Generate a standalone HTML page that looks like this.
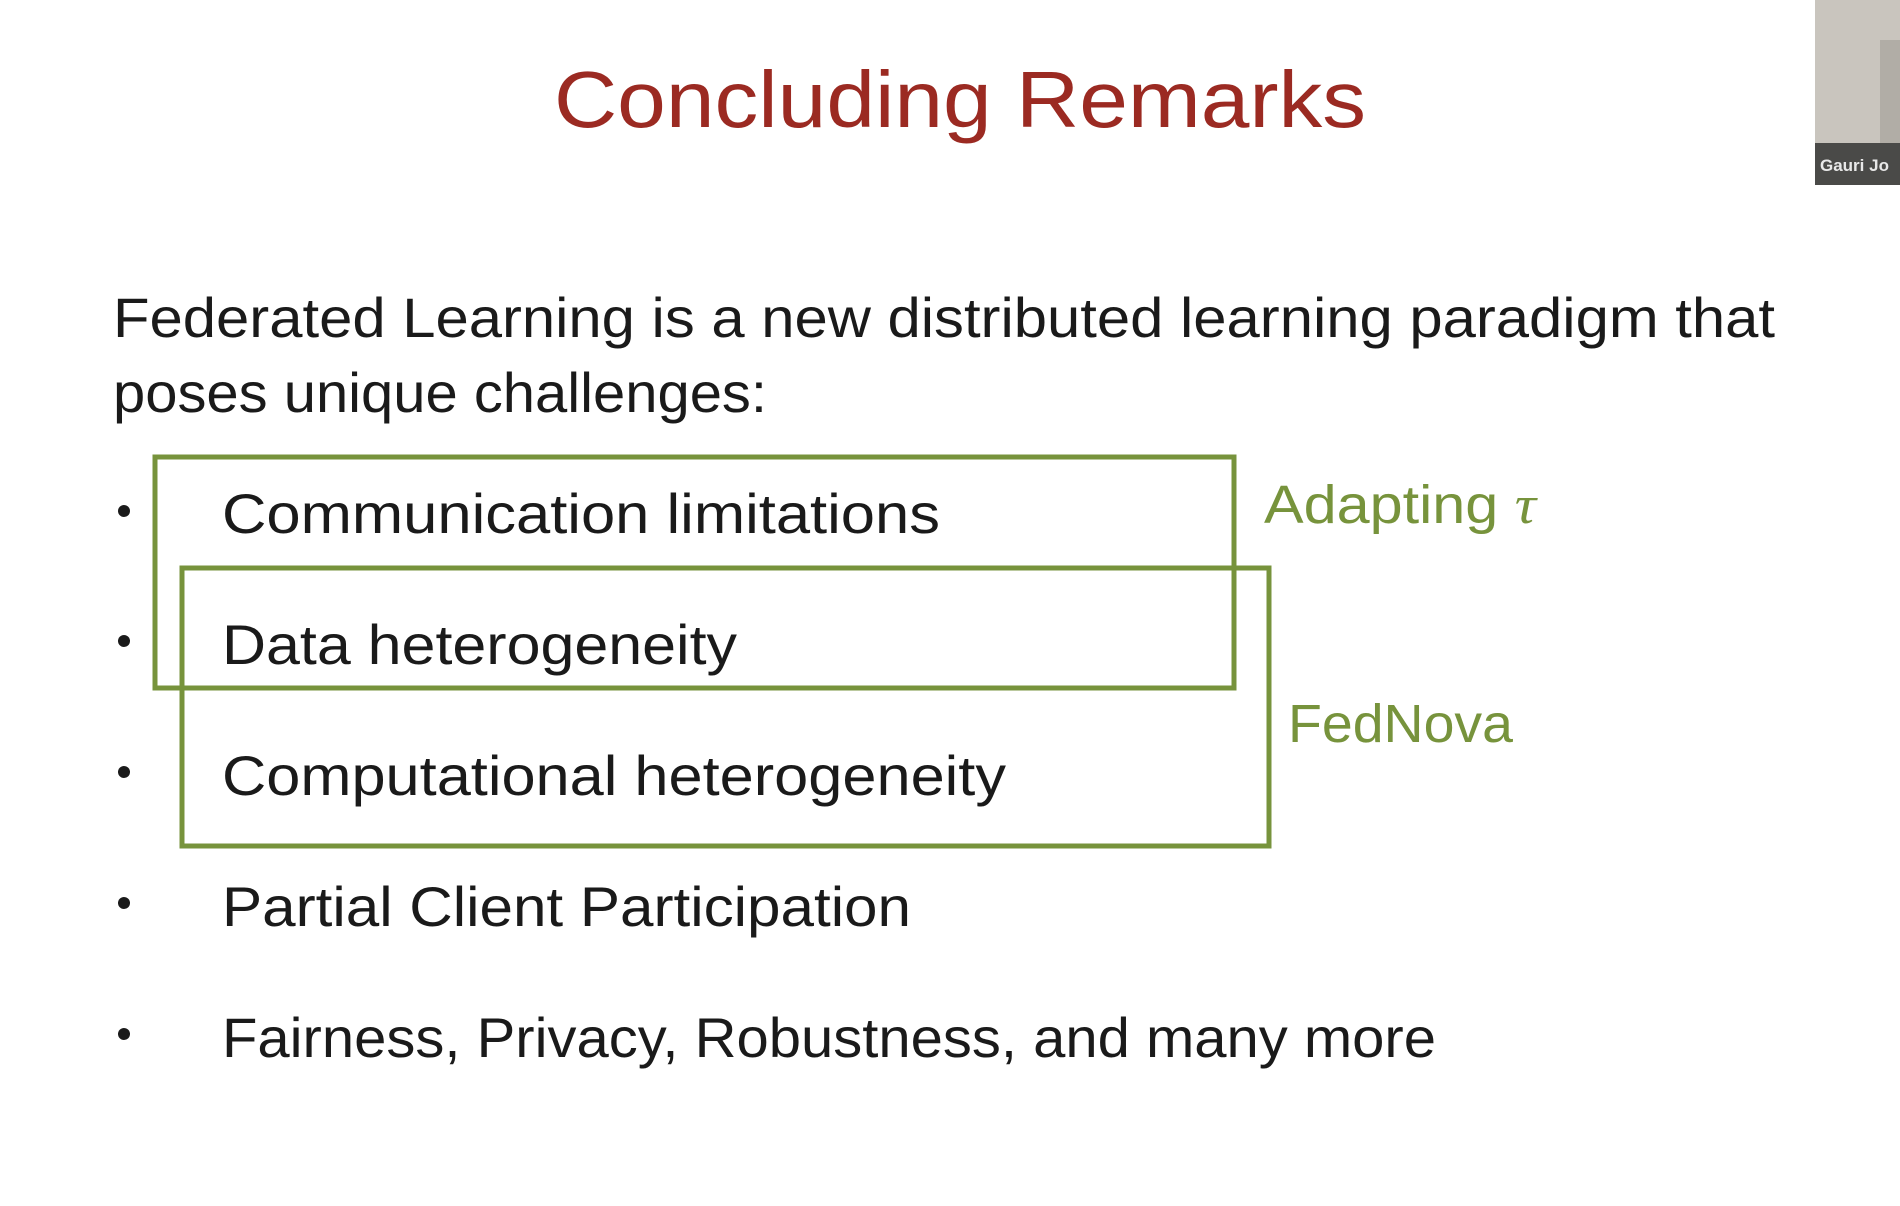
<!DOCTYPE html>
<html><head><meta charset="utf-8"><style>
html,body{margin:0;padding:0;background:#fff;}
svg{display:block;}
text{font-family:"Liberation Sans",sans-serif;}
</style></head><body>
<svg width="1900" height="1206" viewBox="0 0 1900 1206">
<rect width="1900" height="1206" fill="#fff"/>
<text x="554" y="127" font-size="80" fill="#9b2a22" textLength="812" lengthAdjust="spacingAndGlyphs">Concluding Remarks</text>
<text x="113" y="337" font-size="56" fill="#1a1a1a" textLength="1662" lengthAdjust="spacingAndGlyphs">Federated Learning is a new distributed learning paradigm that</text>
<text x="113" y="412" font-size="56" fill="#1a1a1a" textLength="654" lengthAdjust="spacingAndGlyphs">poses unique challenges:</text>
<g fill="#1a1a1a">
<circle cx="124" cy="511" r="6"/><circle cx="124" cy="641" r="6"/><circle cx="124" cy="772" r="6"/><circle cx="124" cy="903" r="6"/><circle cx="124" cy="1034" r="6"/>
</g>
<g font-size="56" fill="#1a1a1a">
<text x="222" y="533" textLength="718" lengthAdjust="spacingAndGlyphs">Communication limitations</text>
<text x="222" y="664" textLength="515" lengthAdjust="spacingAndGlyphs">Data heterogeneity</text>
<text x="222" y="795" textLength="784" lengthAdjust="spacingAndGlyphs">Computational heterogeneity</text>
<text x="222" y="926" textLength="689" lengthAdjust="spacingAndGlyphs">Partial Client Participation</text>
<text x="222" y="1057" textLength="1214" lengthAdjust="spacingAndGlyphs">Fairness, Privacy, Robustness, and many more</text>
</g>
<rect x="155" y="457" width="1079" height="231" fill="none" stroke="#77933c" stroke-width="5"/>
<rect x="182" y="568" width="1087" height="278" fill="none" stroke="#77933c" stroke-width="5"/>
<text x="1264" y="523" font-size="54" fill="#77933c" textLength="272" lengthAdjust="spacingAndGlyphs">Adapting <tspan font-family="Liberation Serif" font-style="italic">τ</tspan></text>
<text x="1288" y="742" font-size="54" fill="#77933c" textLength="225" lengthAdjust="spacingAndGlyphs">FedNova</text>
<g>
<rect x="1815" y="0" width="85" height="185" fill="#c9c5be"/>
<rect x="1880" y="40" width="20" height="145" fill="#9a958e" opacity="0.5"/>
<rect x="1815" y="143" width="85" height="42" fill="#4a4a48"/>
<text x="1820" y="171" font-size="17" font-weight="bold" fill="#e8e8e8">Gauri Jo</text>
</g>
</svg>
</body></html>
